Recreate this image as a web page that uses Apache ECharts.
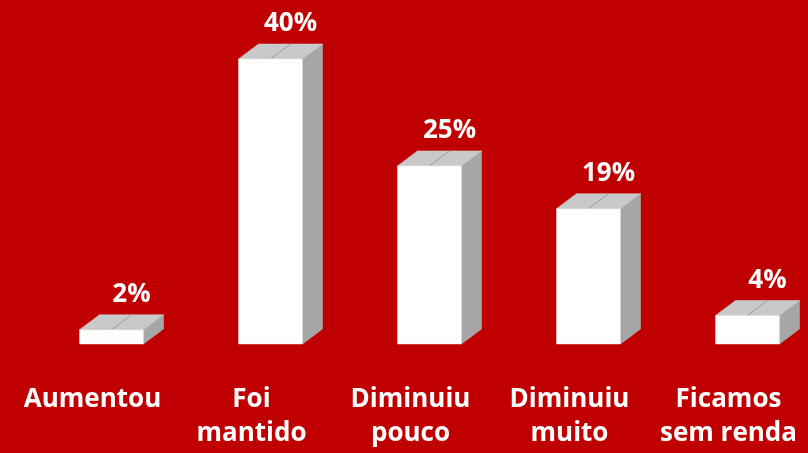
<!DOCTYPE html>
<html>
<head>
<meta charset="utf-8">
<script src="https://cdn.jsdelivr.net/npm/echarts@6/dist/echarts.min.js"></script>
<style>
  html, body { margin: 0; padding: 0; background: #c00000; }
  #chart { width: 808px; height: 453px; }
</style>
</head>
<body>
<div id="chart"></div>
<script>
// categories and shares (%)
const categories = ['Aumentou', 'Foi\nmantido', 'Diminuiu\npouco', 'Diminuiu\nmuito', 'Ficamos\nsem renda']
const values = [2, 40, 25, 19, 4]

const chart = echarts.init(document.getElementById('chart'))

// 3D box: white front, grey side, light grey top
function renderBox(params, api) {
  const idx = api.value(0)
  const top = api.coord([idx, api.value(1)])
  const base = api.coord([idx, 0])
  const w = 64, dx = 20, dy = 15
  const x0 = top[0] - 13
  const x1 = x0 + w
  const yT = top[1], yB = base[1]
  return {
    type: 'group',
    children: [
      {
        type: 'polygon',
        shape: { points: [[x1, yT], [x1 + dx, yT - dy], [x1 + dx, yB - dy], [x1, yB]] },
        style: { fill: '#a6a6a6', stroke: '#b4b4b4', lineWidth: 0.5 }
      },
      {
        type: 'polygon',
        shape: { points: [[x0, yT], [x0 + dx, yT - dy], [x1 + dx, yT - dy], [x1, yT]] },
        style: { fill: '#c9c9c9', stroke: '#d4d4d4', lineWidth: 0.5 }
      },
      {
        type: 'line',
        shape: { x1: x0 + w / 2, y1: yT, x2: x0 + w / 2 + dx, y2: yT - dy },
        style: { stroke: '#9a9a9a', lineWidth: 1 }
      },
      {
        type: 'rect',
        shape: { x: x0, y: yT, width: w, height: yB - yT },
        style: { fill: '#ffffff', stroke: '#e6e6e6', lineWidth: 0.5 }
      },
      {
        type: 'text',
        x: x0 + dx + w / 2,
        y: yT - dy - 7,
        style: {
          text: api.value(1) + '%',
          fill: '#ffffff',
          font: 'bold 26px "Open Sans"',
          align: 'center',
          verticalAlign: 'bottom'
        }
      }
    ]
  }
}

chart.setOption({
  backgroundColor: '#c00000',
  animation: false,
  grid: { left: 13, width: 800, top: 59, bottom: 109 },
  xAxis: {
    type: 'category',
    data: categories,
    axisLine: { show: false },
    axisTick: { show: false },
    axisLabel: {
      color: '#ffffff',
      fontFamily: 'Open Sans',
      fontWeight: 'bold',
      fontSize: 26,
      lineHeight: 34,
      margin: 39,
      interval: 0
    }
  },
  yAxis: {
    type: 'value',
    min: 0,
    max: 40,
    show: false
  },
  series: [{
    type: 'custom',
    renderItem: renderBox,
    encode: { x: 0, y: 1 },
    data: values.map((v, i) => [i, v])
  }]
})
</script>
</body>
</html>
